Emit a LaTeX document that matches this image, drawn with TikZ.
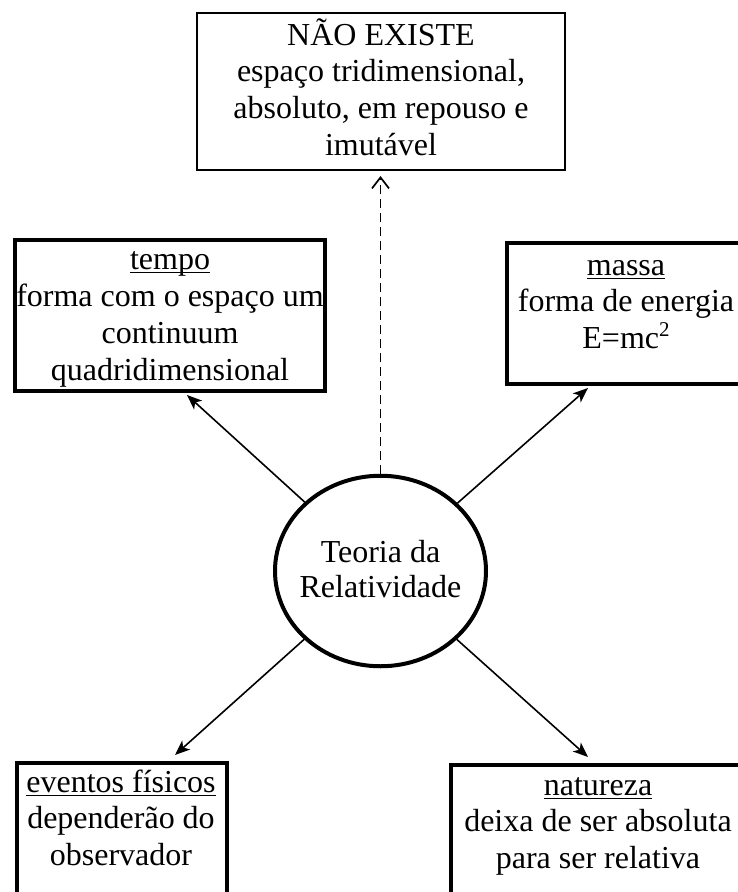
\documentclass[tikz,border=0pt]{standalone}
\usepackage{fontspec}
\setmainfont{Liberation Serif}
\usetikzlibrary{shapes.geometric,arrows.meta}
\newcommand\myul[1]{\leavevmode\setbox0\hbox{#1}\rlap{\rule[-4pt]{\wd0}{1.6pt}}\box0}
\newcommand\mystrut{\rule{0pt}{30pt}}
\newcommand\mysup[1]{\raisebox{12pt}{\fontsize{21}{21}\selectfont #1}}
\begin{document}
\begin{tikzpicture}[x=1pt,y=-1pt,
  box/.style={draw, rectangle, inner sep=0pt},
  thinbox/.style={box, line width=1.6pt},
  thickbox/.style={box, line width=4pt},
  txt/.style={align=center, inner sep=0pt, anchor=north, font=\fontsize{32}{36.6}\selectfont},
  conn/.style={line width=1.6pt, -{Stealth[length=15pt,width=12pt,inset=4pt]}},
  dconn/.style={line width=1.7pt, dash pattern=on 9pt off 5pt, -{Straight Barb[length=11pt,width=17pt]}}
]
\clip (0,0) rectangle (738,892);
\fill[white] (0,0) rectangle (738,892);

% boxes
\node[thinbox, minimum width=368pt, minimum height=157pt] (top) at (381,91.5) {};
\node[thickbox, minimum width=310pt, minimum height=151pt] (tempo) at (170,315.5) {};
\node[thickbox, minimum width=238pt, minimum height=141pt] (massa) at (626,313.5) {};
\node[thickbox, minimum width=209.5pt, minimum height=157.5pt] (eventos) at (121.75,841.25) {};
\node[thickbox, minimum width=295pt, minimum height=155pt] (natureza) at (598,842.5) {};
\node[ellipse, draw, line width=4pt, minimum width=211pt, minimum height=190.5pt, inner sep=0pt] (c) at (380.5,571) {};

% texts
\node[txt] (topT) at (381,15) {\mystrut NÃO EXISTE\\espaço tridimensional,\\absoluto, em repouso e\\imutável};
\node[txt, font=\fontsize{32}{37}\selectfont] (tempoT) at (170,239) {\mystrut\myul{tempo}\\forma com o espaço um\\continuum\\quadridimensional};
\node[txt, font=\fontsize{32}{36.5}\selectfont] (massaT) at (626,245) {\mystrut\myul{massa}\\forma de energia\\E=mc\mysup{2}};
\node[txt, font=\fontsize{32}{36.5}\selectfont] (eventosT) at (121,762) {\mystrut\myul{eventos físicos}\\dependerão do\\observador};
\node[txt, font=\fontsize{32}{36.5}\selectfont] (naturezaT) at (598,765) {\mystrut\myul{natureza}\\deixa de ser absoluta\\para ser relativa};
\node[txt, font=\fontsize{32}{35}\selectfont] (cT) at (380.5,532) {\mystrut Teoria da\\Relatividade};

% arrow tips
\coordinate (pTop) at (380.5,176);
\coordinate (pTempo) at (187,395);
\coordinate (pMassa) at (588,388);
\coordinate (pEventos) at (175,755);
\coordinate (pNatureza) at (588,757);

\draw[dconn] (c) -- (pTop);
\draw[conn] (c) -- (pTempo);
\draw[conn] (c) -- (pMassa);
\draw[conn] (c) -- (pEventos);
\draw[conn] (c) -- (pNatureza);
\end{tikzpicture}
\end{document}
